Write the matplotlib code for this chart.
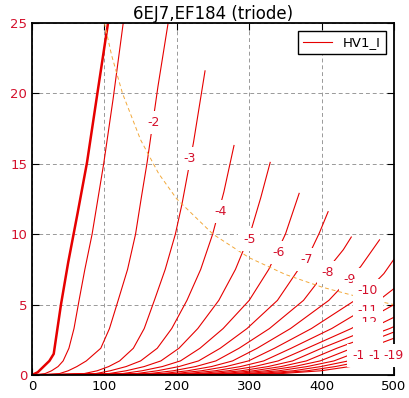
import matplotlib
matplotlib.use("Agg")
import matplotlib.pyplot as plt

# Anodenkennlinien 6EJ7 / EF184 als Triode
# Gitterspannungen
grid_volts = [0, -1, -2, -3, -4, -5, -6, -7, -8, -9, -10,
              -11, -12, -13, -14, -15, -16, -17, -18, -19]

# Anodenspannung (V) / Anodenstrom (mA) je Kurve
v_g0 = [0, 8, 16, 24, 30, 40, 50, 63, 76, 90, 105]
i_g0 = [0, 0.2, 0.6, 1.0, 1.5, 5.0, 8.0, 11.5, 15.1, 19.9, 25.0]
v_g1 = [0, 18, 27, 36, 43, 51, 58, 65, 73, 83, 99, 112, 126]
i_g1 = [0, 0.1, 0.3, 0.6, 1.0, 1.9, 3.3, 5.3, 7.5, 10.0, 15.0, 19.6, 25.0]
v_g2 = [0, 38, 50, 62, 75, 95, 107, 119, 132, 143, 151, 159, 174, 188]
i_g2 = [0, 0.1, 0.3, 0.6, 1.0, 1.9, 3.3, 5.3, 7.5, 10.0, 12.6, 15.1, 20.5, 25.0]
v_g3 = [0, 72, 90, 106, 121, 140, 155, 169, 184, 198, 207, 215, 223, 239]
i_g3 = [0, 0.1, 0.3, 0.6, 1.0, 1.9, 3.3, 5.3, 7.5, 10.0, 12.1, 14.3, 16.5, 21.6]
v_g4 = [0, 88, 108, 130, 150, 173, 193, 214, 233, 249.5, 265, 279]
i_g4 = [0, 0.1, 0.3, 0.6, 1.0, 1.9, 3.3, 5.3, 7.5, 10.0, 13.0, 16.3]
v_g5 = [0, 106, 130, 155, 178, 203, 229, 258, 281, 301, 316, 329]
i_g5 = [0, 0.1, 0.3, 0.6, 1.0, 1.9, 3.3, 5.3, 7.5, 10.0, 12.6, 15.1]
v_g6 = [0, 125, 152, 180, 205, 232, 264, 300, 327, 350, 369]
i_g6 = [0, 0.1, 0.3, 0.6, 1.0, 1.9, 3.3, 5.3, 7.5, 10.0, 12.9]
v_g7 = [0, 144, 173, 203, 230, 260, 297, 339, 368, 385, 397, 409]
i_g7 = [0, 0.1, 0.3, 0.6, 1.0, 1.9, 3.3, 5.3, 7.5, 8.8, 10.1, 11.6]
v_g8 = [0, 162, 195, 226, 254, 286, 328, 375, 408, 430, 441]
i_g8 = [0, 0.1, 0.3, 0.6, 1.0, 1.9, 3.3, 5.3, 7.5, 8.9, 9.8]
v_g9 = [0, 180, 215, 248, 277, 311, 357, 410, 454, 480]
i_g9 = [0, 0.1, 0.3, 0.6, 1.0, 1.9, 3.3, 5.3, 7.7, 9.6]
v_g10 = [0, 197, 234, 268, 299, 335, 386, 446, 467, 486, 501, 520]
i_g10 = [0, 0.1, 0.3, 0.6, 1.0, 1.9, 3.3, 5.3, 6.2, 7.2, 8.3, 9.9]
v_g11 = [0, 214, 253, 288, 320, 358, 414, 479, 499, 520]
i_g11 = [0, 0.1, 0.3, 0.6, 1.0, 1.9, 3.3, 5.3, 6.1, 7.1]
v_g12 = [0, 231, 271, 307, 340, 380, 441, 500, 520]
i_g12 = [0, 0.1, 0.3, 0.6, 1.0, 1.9, 3.3, 5.0, 5.6]
v_g13 = [0, 248, 289, 326, 360, 400, 468, 520]
i_g13 = [0, 0.1, 0.3, 0.6, 1.0, 1.9, 3.3, 4.6]
v_g14 = [0, 264, 306, 344, 379, 421, 494, 520]
i_g14 = [0, 0.1, 0.3, 0.6, 1.0, 1.9, 3.3, 3.9]
v_g15 = [0, 280, 323, 362, 398, 442, 520]
i_g15 = [0, 0.1, 0.3, 0.6, 1.0, 1.9, 3.45]
v_g16 = [0, 296, 341, 380, 417, 463, 520]
i_g16 = [0, 0.1, 0.3, 0.6, 1.0, 1.9, 3.0]
v_g17 = [0, 312, 361, 399, 437, 484, 520]
i_g17 = [0, 0.1, 0.3, 0.6, 1.0, 1.9, 2.55]
v_g18 = [0, 328, 380, 419, 458, 505, 520]
i_g18 = [0, 0.1, 0.3, 0.6, 1.0, 1.9, 2.2]
v_g19 = [0, 344, 399, 439, 479, 520]
i_g19 = [0, 0.1, 0.3, 0.6, 1.0, 1.4]

curves_v = [v_g0, v_g1, v_g2, v_g3, v_g4, v_g5, v_g6, v_g7, v_g8, v_g9, v_g10,
            v_g11, v_g12, v_g13, v_g14, v_g15, v_g16, v_g17, v_g18, v_g19]
curves_i = [i_g0, i_g1, i_g2, i_g3, i_g4, i_g5, i_g6, i_g7, i_g8, i_g9, i_g10,
            i_g11, i_g12, i_g13, i_g14, i_g15, i_g16, i_g17, i_g18, i_g19]

# Beschriftungen der Kurven (Position im Diagramm)
label_grid = [-2, -3, -4, -5, -6, -7, -8, -9, -10, -11, -12, -13, -14, -15, -16, -17, -18, -19]
label_v = [168, 218, 260, 300, 340, 380, 409, 439, 464, 464, 464, 464, 464, 464, 464, 456, 478, 500]
label_i = [17.9, 15.4, 11.6, 9.6, 8.7, 8.2, 7.3, 6.75, 6.0, 4.6, 3.7, 2.95, 2.5, 2.1, 1.8, 1.35, 1.35, 1.35]

# Verlustleistungsgrenze
pmax_v = [100, 110, 125, 150, 175, 200, 250, 300, 350, 400, 450, 500]
pmax_i = [25.0, 22.7, 20.0, 16.7, 14.3, 12.5, 10.0, 8.33, 7.14, 6.25, 5.56, 5.0]

line_col = "#e60000"
text_col = "#d4102c"

fig = plt.figure(figsize=(4.10, 3.98), dpi=100)
ax = fig.add_axes([32 / 410, 1 - 375 / 398, 362 / 410, 352 / 398])

for g, v, i in zip(grid_volts, curves_v, curves_i):
    if g == 0:
        ax.plot(v, i, color=line_col, lw=1.8)
    elif g == -1:
        ax.plot(v, i, color=line_col, lw=0.8, label="HV1_I")
    else:
        ax.plot(v, i, color=line_col, lw=0.8)

ax.plot(pmax_v, pmax_i, color="#f2a93b", lw=0.7, dashes=(4, 3))

for g, x, y in zip(label_grid, label_v, label_i):
    ax.text(x, y, str(g), color=text_col, fontsize=9, ha="center", va="center",
            zorder=4, clip_on=False,
            bbox=dict(boxstyle="square,pad=0.4", fc="white", ec="none"))

ax.set_xlim(0, 500)
ax.set_ylim(0, 25)
ax.set_xticks([0, 100, 200, 300, 400, 500])
ax.set_yticks([0, 5, 10, 15, 20, 25])
ax.grid(True, color="#999999", lw=0.7, dashes=(4, 3))
ax.tick_params(direction="in", top=True, right=True, length=5, labelsize=9.5)
for lab in ax.get_yticklabels():
    lab.set_color(text_col)
for s in ax.spines.values():
    s.set_linewidth(1.3)
    s.set_zorder(3.5)

ax.set_title("6EJ7,EF184 (triode)", fontsize=12, pad=3)
leg = ax.legend(loc="upper right", fontsize=9.5, fancybox=False, framealpha=1,
                edgecolor="black", borderaxespad=0.6, handlelength=2.2)
leg.get_frame().set_linewidth(1.0)

fig.savefig("out.png", dpi=100)
